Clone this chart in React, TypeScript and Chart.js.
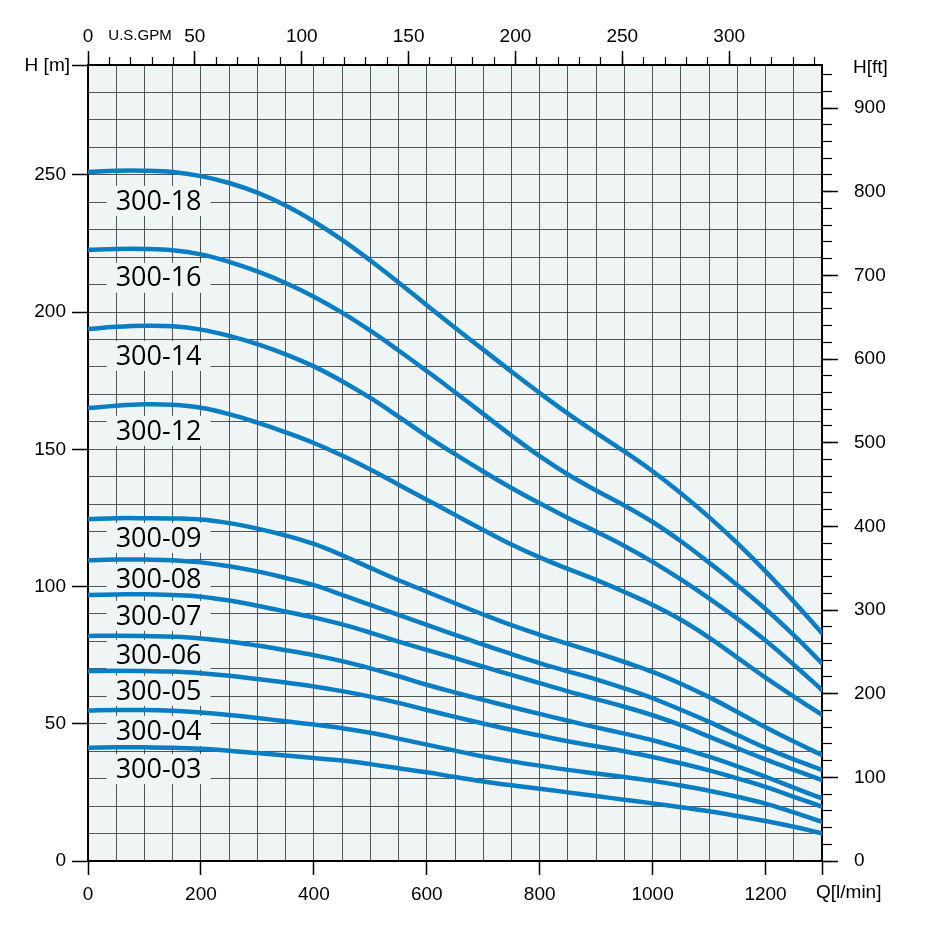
import React, { useEffect, useRef } from 'react';
import { Chart, registerables } from 'chart.js';

Chart.register(...registerables);

// Flow rate Q [l/min]
const FLOW = [0, 50, 100, 150, 200, 250, 300, 350, 400, 450, 500, 550, 600, 650, 700, 750, 800, 850, 900, 950, 1000, 1050, 1100, 1150, 1200, 1250, 1300];

// Head H [m] per pump model
const H_300_18 = [251, 251.5, 251.5, 251, 249.5, 247, 243.5, 238.8, 233, 226.3, 218.8, 210.8, 202.5, 194.3, 186.3, 178.3, 170.5, 163, 156, 149.2, 142, 134, 125.3, 115.8, 105.5, 94.5, 83];
const H_300_16 = [222.7, 223, 223, 222.5, 221, 218.3, 214.8, 210.6, 205.6, 199.8, 193.2, 186, 178.5, 170.8, 162.9, 155, 147.5, 140.8, 135, 129.5, 123.5, 116.5, 108.7, 100.5, 91.8, 82.3, 72];
const H_300_14 = [193.8, 194.6, 195, 194.8, 193.6, 191.3, 188.3, 184.6, 180.2, 174.8, 168.7, 161.9, 154.8, 148.2, 141.9, 135.9, 130.3, 125, 120, 114.8, 109, 102.6, 95.7, 88.3, 80.3, 71.5, 62.3];
const H_300_12 = [165, 165.9, 166.4, 166.2, 165.1, 162.8, 159.7, 156.2, 152.3, 147.7, 142.6, 137.1, 131.6, 126.1, 120.6, 115.3, 110.6, 106.4, 102.4, 98, 93.3, 87.9, 81.4, 74.1, 66.8, 59.9, 53.2];
const H_300_09 = [124.6, 124.9, 124.9, 124.8, 124.4, 123.1, 121.1, 118.6, 115.5, 111.4, 106.8, 102.3, 98.1, 93.9, 89.8, 85.9, 82.4, 79.1, 75.9, 72.5, 68.9, 64.6, 59.7, 54.3, 48.7, 43.5, 38.6];
const H_300_08 = [109.6, 109.8, 109.8, 109.6, 108.8, 107.4, 105.5, 103.1, 100.5, 97, 93.3, 89.7, 86, 82.4, 78.8, 75.4, 72.1, 69.1, 66.2, 62.9, 59.3, 55.1, 50.7, 45.9, 41.2, 37, 33.2];
const H_300_07 = [96.9, 97.1, 97.2, 96.9, 96.3, 94.9, 93, 90.9, 88.7, 86.2, 83.2, 79.9, 76.9, 73.9, 70.8, 67.8, 64.8, 61.8, 59, 56.2, 53.1, 49.5, 45.3, 41.1, 37, 33.2, 29.5];
const H_300_06 = [82, 82.1, 82, 81.7, 81.1, 80, 78.5, 76.8, 75, 72.8, 70.2, 67.3, 64.2, 61.4, 58.7, 56.1, 53.6, 51.1, 48.7, 46.4, 44, 41.1, 38, 34.5, 30.7, 26.7, 22.8];
const H_300_05 = [69.2, 69.3, 69.2, 69, 68.4, 67.5, 66.3, 65, 63.6, 61.9, 59.9, 57.6, 55, 52.5, 50.1, 47.8, 45.7, 43.6, 41.8, 40, 37.9, 35.6, 33, 30.1, 27, 23.4, 19.8];
const H_300_04 = [54.8, 55, 55, 54.7, 54.1, 53.2, 52.1, 50.9, 49.7, 48.4, 46.7, 44.6, 42.4, 40.2, 38.1, 36.3, 34.7, 33.2, 31.9, 30.6, 29.2, 27.5, 25.6, 23.4, 20.9, 17.7, 14.3];
const H_300_03 = [41.3, 41.4, 41.4, 41.3, 40.9, 40.2, 39.3, 38.4, 37.5, 36.6, 35.3, 33.8, 32.3, 30.6, 29, 27.6, 26.3, 25, 23.7, 22.3, 21, 19.6, 18.1, 16.4, 14.6, 12.5, 10.1];

const SERIES_NAMES = ['300-18', '300-16', '300-14', '300-12', '300-09', '300-08', '300-07', '300-06', '300-05', '300-04', '300-03'];
const SERIES_VALUES = [H_300_18, H_300_16, H_300_14, H_300_12, H_300_09, H_300_08, H_300_07, H_300_06, H_300_05, H_300_04, H_300_03];

// Where each curve name sits (H [m]) and at which flow
const LABEL_HEIGHTS = [240.5, 212.5, 184, 156.7, 117.7, 102.8, 89.3, 75.1, 62, 47.4, 33.5];
const LABEL_FLOW = 125;

// Tick labels
const Q_LABELS = [0, 200, 400, 600, 800, 1000, 1200];
const H_LABELS = [0, 50, 100, 150, 200, 250];
const GPM_LABELS = [0, 50, 100, 150, 200, 250, 300];
const FT_LABELS = [0, 100, 200, 300, 400, 500, 600, 700, 800, 900];

const Q_MAX = 1300;
const H_MAX = 290;
const LPM_PER_GPM = 3.78541;
const FT_PER_M = 3.28084;

const PLOT_BG = '#eff5f5';
const GRID = 'rgba(45,45,45,0.8)';
const CURVE = '#0b7dc3';
const TICK_FONT = { family: '"Liberation Sans", Arial, sans-serif', size: 19 };

const near = (v: number, list: number[]) => list.some((l) => Math.abs(v - l) < 1e-6);
const isMult = (v: number, s: number) => Math.abs(v - Math.round(v / s) * s) < 1e-6;

const bgPlugin = {
  id: 'plotBg',
  beforeDraw(chart: any) {
    const { ctx, chartArea: a } = chart;
    ctx.save();
    ctx.fillStyle = PLOT_BG;
    ctx.fillRect(a.left, a.top, a.right - a.left, a.bottom - a.top);
    ctx.restore();
  },
};

const curveLabelPlugin = {
  id: 'curveLabels',
  beforeDatasetsDraw(chart: any) {
    const { ctx } = chart;
    const xs = chart.scales.x;
    const ys = chart.scales.y;
    ctx.save();
    ctx.font = '27px "Open Sans", "Noto Sans", sans-serif';
    ctx.textAlign = 'center';
    ctx.textBaseline = 'middle';
    SERIES_NAMES.forEach((name, i) => {
      const cx = xs.getPixelForValue(LABEL_FLOW);
      const cy = ys.getPixelForValue(LABEL_HEIGHTS[i]);
      const w = ctx.measureText(name).width + 18;
      ctx.fillStyle = PLOT_BG;
      ctx.fillRect(cx - w / 2, cy - 15, w, 30);
      ctx.fillStyle = '#000';
      ctx.fillText(name, cx, cy + 1);
    });
    ctx.restore();
  },
};

const titlePlugin = {
  id: 'axisTitles',
  afterDraw(chart: any) {
    const { ctx, chartArea: a } = chart;
    ctx.save();
    ctx.fillStyle = '#000';
    ctx.textBaseline = 'middle';
    ctx.font = '19px "Liberation Sans", Arial, sans-serif';
    ctx.textAlign = 'right';
    ctx.fillText('H [m]', a.left - 18, a.top + 1);
    ctx.textAlign = 'left';
    ctx.fillText('H[ft]', a.right + 31, a.top + 3);
    ctx.fillText('Q[l/min]', a.right - 6, a.bottom + 32);
    ctx.font = '15px "Liberation Sans", Arial, sans-serif';
    ctx.textAlign = 'center';
    ctx.fillText('U.S.GPM', a.left + 52, 36);
    ctx.restore();
  },
};

export default function App() {
  const ref = useRef<HTMLCanvasElement>(null);

  useEffect(() => {
    if (!ref.current) return;
    const datasets = SERIES_NAMES.map((name, i) => ({
      label: name,
      data: FLOW.map((q, j) => ({ x: q, y: SERIES_VALUES[i][j] })),
      borderColor: CURVE,
      borderWidth: 4.5,
      pointRadius: 0,
      fill: false,
      tension: 0.4,
      borderCapStyle: 'round' as const,
      borderJoinStyle: 'round' as const,
    }));

    const chart = new Chart(ref.current, {
      type: 'line',
      data: { datasets },
      plugins: [bgPlugin, curveLabelPlugin, titlePlugin],
      options: {
        animation: false,
        responsive: false,
        devicePixelRatio: 1,
        layout: { padding: 0, autoPadding: false },
        plugins: { legend: { display: false }, tooltip: { enabled: false } },
        scales: {
          x: {
            type: 'linear',
            position: 'bottom',
            min: 0,
            max: Q_MAX,
            weight: 1,
            afterFit: (s: any) => { s.height = 75; },
            border: { color: '#000', width: 2 },
            grid: {
              color: GRID,
              lineWidth: 1,
              tickLength: 14,
              tickWidth: 1.5,
              tickColor: (c: any) => (c.tick && (near(c.tick.value, Q_LABELS) || Math.abs(c.tick.value - Q_MAX) < 1e-6) ? '#000' : 'transparent'),
            },
            ticks: {
              stepSize: 50,
              autoSkip: false,
              maxRotation: 0,
              minRotation: 0,
              padding: 8,
              color: '#000',
              font: TICK_FONT,
              callback: (v: any) => (near(Number(v), Q_LABELS) ? String(Math.round(Number(v))) : ''),
            },
          },
          y: {
            type: 'linear',
            position: 'left',
            min: 0,
            max: H_MAX,
            weight: 1,
            afterFit: (s: any) => { s.width = 88; },
            border: { color: '#000', width: 2 },
            grid: {
              color: GRID,
              lineWidth: 1,
              tickLength: 16,
              tickWidth: 1.5,
              tickColor: (c: any) => (c.tick && (near(c.tick.value, H_LABELS) || Math.abs(c.tick.value - H_MAX) < 1e-6) ? '#000' : 'transparent'),
            },
            ticks: {
              stepSize: 10,
              autoSkip: false,
              padding: 6,
              color: '#000',
              font: TICK_FONT,
              callback: (v: any) => (near(Number(v), H_LABELS) ? String(Math.round(Number(v))) : ''),
            },
          },
          gpm: {
            type: 'linear',
            position: 'top',
            min: 0,
            max: Q_MAX / LPM_PER_GPM,
            weight: 2,
            afterFit: (s: any) => { s.height = 65; },
            border: { color: '#000', width: 2 },
            grid: {
              drawOnChartArea: false,
              tickLength: 14,
              tickWidth: 1.5,
              tickColor: (c: any) => (c.tick && near(c.tick.value, GPM_LABELS) ? '#000' : 'transparent'),
            },
            ticks: {
              stepSize: 50,
              includeBounds: false,
              autoSkip: false,
              maxRotation: 0,
              minRotation: 0,
              padding: 3,
              color: '#000',
              font: TICK_FONT,
              callback: (v: any) => (near(Number(v), GPM_LABELS) ? String(Math.round(Number(v))) : ''),
            },
          },
          gpmMinor: {
            type: 'linear',
            position: 'top',
            min: 0,
            max: Q_MAX / LPM_PER_GPM,
            weight: 0,
            afterFit: (s: any) => { s.height = 0; },
            border: { display: false },
            grid: {
              drawOnChartArea: false,
              tickLength: 8,
              tickWidth: 1.2,
              tickColor: (c: any) => (c.tick && isMult(c.tick.value, 10) ? '#000' : 'transparent'),
            },
            ticks: { stepSize: 10, includeBounds: false, autoSkip: false, display: false },
          },
          ft: {
            type: 'linear',
            position: 'right',
            min: 0,
            max: H_MAX * FT_PER_M,
            weight: 2,
            afterFit: (s: any) => { s.width = 114; },
            border: { color: '#000', width: 2 },
            grid: {
              drawOnChartArea: false,
              tickLength: 16,
              tickWidth: 1.5,
              tickColor: (c: any) => (c.tick && near(c.tick.value, FT_LABELS) ? '#000' : 'transparent'),
            },
            ticks: {
              stepSize: 100,
              includeBounds: false,
              autoSkip: false,
              padding: 16,
              color: '#000',
              font: TICK_FONT,
              callback: (v: any) => (near(Number(v), FT_LABELS) ? String(Math.round(Number(v))) : ''),
            },
          },
          ftMinor: {
            type: 'linear',
            position: 'right',
            min: 0,
            max: H_MAX * FT_PER_M,
            weight: 0,
            afterFit: (s: any) => { s.width = 0; },
            border: { display: false },
            grid: {
              drawOnChartArea: false,
              tickLength: 10,
              tickWidth: 1.2,
              tickColor: (c: any) => (c.tick && isMult(c.tick.value, 20) ? '#000' : 'transparent'),
            },
            ticks: { stepSize: 20, includeBounds: false, autoSkip: false, display: false },
          },
        },
      } as any,
    });
    return () => chart.destroy();
  }, []);

  return (
    <div style={{ position: 'absolute', left: 0, top: 0, width: 936, height: 936, background: '#fff' }}>
      <canvas ref={ref} width={936} height={936} style={{ display: 'block' }} />
    </div>
  );
}
